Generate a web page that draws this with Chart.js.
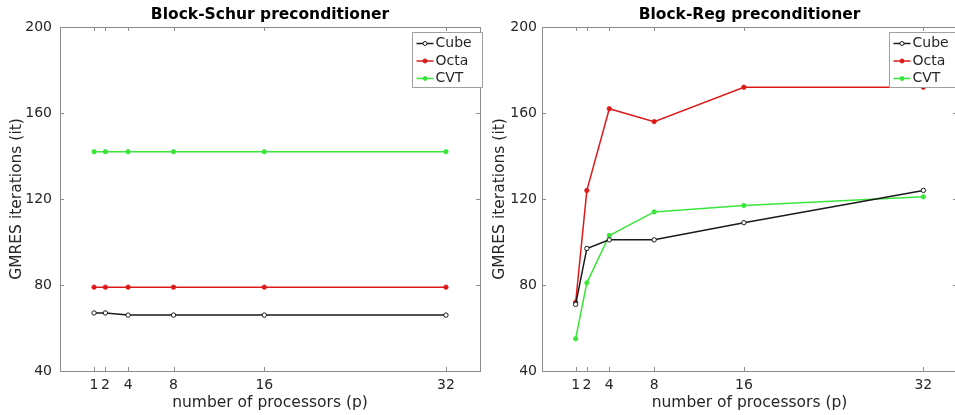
<!DOCTYPE html>
<html>
<head>
<meta charset="utf-8">
<script src="https://cdn.jsdelivr.net/npm/chart.js@4/dist/chart.umd.min.js"></script>
<style>
html,body{margin:0;padding:0;background:#fff;overflow:hidden;width:955px;height:415px;}
#wrapL{position:absolute;left:0;top:0;width:490px;height:415px;}
#wrapR{position:absolute;left:480px;top:0;width:482px;height:415px;}
</style>
</head>
<body>
<div id="wrapL"><canvas id="cL"></canvas></div>
<div id="wrapR"><canvas id="cR"></canvas></div>
<script>
// ---- data ----
const processors = [1, 2, 4, 8, 16, 32];
const xTickValues = [1, 2, 4, 8, 16, 32];
const yTickValues = [40, 80, 120, 160, 200];
const seriesNames = ['Cube', 'Octa', 'CVT'];

const schurCube = [67, 67, 66, 66, 66, 66];
const schurOcta = [79, 79, 79, 79, 79, 79];
const schurCVT  = [142, 142, 142, 142, 142, 142];

const regCube = [71, 97, 101, 101, 109, 124];
const regOcta = [72, 124, 162, 156, 172, 172];
const regCVT  = [55, 81, 103, 114, 117, 121];

const titles = ['Block-Schur preconditioner', 'Block-Reg preconditioner'];
const yLabel = 'GMRES iterations (it)';
const xLabel = 'number of processors (p)';

// ---- styles ----
const colors = ['#1a1a1a', '#dd1a1a', '#3be63b'];
const textColor = '#262626';
const frameColor = '#8c8c8c';
const FONT = 'DejaVu Sans';

function makeDatasets(cube, octa, cvt) {
  return [cube, octa, cvt].map((vals, i) => ({
    label: seriesNames[i],
    data: processors.map((p, j) => ({x: p, y: vals[j]})),
    borderColor: colors[i],
    backgroundColor: i === 0 ? '#ffffff' : colors[i],
    pointBorderColor: colors[i],
    pointBackgroundColor: i === 0 ? '#ffffff' : colors[i],
    borderWidth: 1.5,
    pointRadius: 2.2,
    pointBorderWidth: i === 0 ? 1 : 0.8,
    pointStyle: 'circle',
    tension: 0,
    fill: false
  }));
}

const framePlugin = {
  id: 'frame',
  afterDraw(chart, args, opts) {
    const ctx = chart.ctx;
    const a = chart.chartArea;
    const xs = chart.scales.x, ys = chart.scales.y;
    ctx.save();
    ctx.strokeStyle = frameColor;
    ctx.lineWidth = 1;
    ctx.strokeRect(Math.round(a.left) + 0.5, Math.round(a.top) + 0.5, Math.round(a.right - a.left), Math.round(a.bottom - a.top));
    ctx.beginPath();
    const tl = 4;
    xTickValues.forEach(v => {
      const px = Math.round(xs.getPixelForValue(v)) + 0.5;
      ctx.moveTo(px, a.bottom); ctx.lineTo(px, a.bottom - tl);
      ctx.moveTo(px, a.top); ctx.lineTo(px, a.top + tl);
    });
    yTickValues.forEach(v => {
      const py = Math.round(ys.getPixelForValue(v)) + 0.5;
      ctx.moveTo(a.left, py); ctx.lineTo(a.left + tl, py);
      ctx.moveTo(a.right, py); ctx.lineTo(a.right - tl, py);
    });
    ctx.stroke();

    // title
    ctx.fillStyle = '#000';
    ctx.font = 'bold 15.5px "' + FONT + '"';
    ctx.textAlign = 'center';
    ctx.textBaseline = 'middle';
    ctx.fillText(opts.title, (a.left + a.right) / 2, 15);

    // legend
    const bw = 70, bh = 55;
    const bx = Math.round(a.right + 2 - bw) + 0.5, by = Math.round(a.top + 5) + 0.5;
    ctx.fillStyle = '#fff';
    ctx.fillRect(bx, by, bw, bh);
    ctx.strokeStyle = '#a0a0a0';
    ctx.strokeRect(bx, by, bw, bh);
    chart.data.datasets.forEach((ds, i) => {
      const cy = by + 11 + i * 17.5;
      const lx0 = bx + 4, lx1 = bx + 21;
      ctx.strokeStyle = ds.borderColor;
      ctx.lineWidth = 1.5;
      ctx.beginPath(); ctx.moveTo(lx0, cy); ctx.lineTo(lx1, cy); ctx.stroke();
      ctx.beginPath();
      ctx.arc((lx0 + lx1) / 2, cy, 2, 0, Math.PI * 2);
      ctx.fillStyle = ds.pointBackgroundColor;
      ctx.fill();
      ctx.lineWidth = 1;
      ctx.stroke();
      ctx.fillStyle = textColor;
      ctx.font = '14px "' + FONT + '"';
      ctx.textAlign = 'left';
      ctx.textBaseline = 'middle';
      ctx.fillText(ds.label, lx1 + 2, cy);
    });
    ctx.restore();
  }
};

function makeChart(id, datasets, title, yWidth, yTitlePad, yTickPad, padRight) {
  return new Chart(document.getElementById(id), {
    type: 'line',
    data: {datasets},
    plugins: [framePlugin],
    options: {
      responsive: true,
      maintainAspectRatio: false,
      animation: false,
      layout: {padding: {top: 27, right: padRight, left: 0, bottom: 0}},
      plugins: {
        legend: {display: false},
        title: {display: false},
        tooltip: {enabled: false},
        frame: {title}
      },
      scales: {
        x: {
          type: 'linear',
          min: -2, max: 35,
          afterBuildTicks: s => { s.ticks = xTickValues.map(v => ({value: v})); },
          grid: {display: false, drawTicks: false, tickLength: 0},
          border: {display: false},
          ticks: {color: textColor, font: {family: FONT, size: 14}, padding: 6, maxRotation: 0, autoSkip: false},
          title: {display: true, text: xLabel, color: textColor, font: {family: FONT, size: 15.5}, padding: {top: 3, bottom: 3}},
          afterFit: s => { s.height = 44; }
        },
        y: {
          min: 40, max: 200,
          afterBuildTicks: s => { s.ticks = yTickValues.map(v => ({value: v})); },
          grid: {display: false, drawTicks: false, tickLength: 0},
          border: {display: false},
          ticks: {color: textColor, font: {family: FONT, size: 14}, padding: yTickPad},
          title: {display: true, text: yLabel, color: textColor, font: {family: FONT, size: 15.5}, padding: {top: yTitlePad, bottom: 0}},
          afterFit: s => { s.width = yWidth; }
        }
      }
    }
  });
}

makeChart('cL', makeDatasets(schurCube, schurOcta, schurCVT), titles[0], 60, 8, 8, 10);
makeChart('cR', makeDatasets(regCube, regOcta, regCVT), titles[1], 62, 11, 5, 0);
</script>
</body>
</html>
